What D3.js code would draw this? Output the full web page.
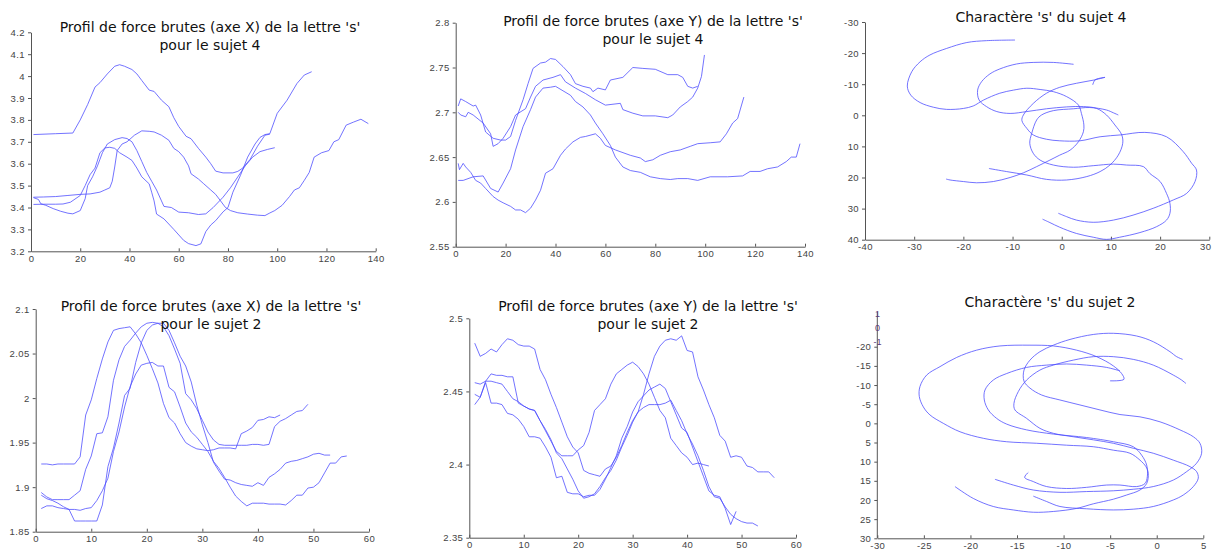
<!DOCTYPE html>
<html><head><meta charset="utf-8">
<script src="https://cdn.jsdelivr.net/npm/d3@7"></script>
<style>
html,body{margin:0;padding:0;background:#fff;}
svg{display:block;}
.tick text{font-family:"Liberation Sans",Arial,sans-serif;font-size:9.5px;fill:#444;letter-spacing:0.4px;}
.tick line,.domain{stroke:#555;}
.title{font-family:"DejaVu Sans",Verdana,sans-serif;font-size:14px;fill:#111;text-anchor:middle;}
</style></head><body>
<svg id="chart" width="1214" height="557"></svg>
<script>
// ---------- Panel 1 : raw force X, subject 4 ----------
const p1Title = ["Profil de force brutes (axe X) de la lettre 's'", "pour le sujet 4"];
const p1XTicks = [0,20,40,60,80,100,120,140];
const p1YTicks = [3.2,3.3,3.4,3.5,3.6,3.7,3.8,3.9,4,4.1,4.2];
const p1A = [[1,3.733],[10,3.737],[17,3.74],[20,3.80],[23,3.87],[26,3.95],[28,3.97],[31,4.01],[34,4.045],[36,4.052],[38,4.045],[41,4.03],[43,4.01],[45,3.98],[48,3.936],[50,3.93],[53,3.89],[56,3.86],[58,3.81],[60,3.77],[63,3.725],[65,3.714],[68,3.67],[71,3.63],[73,3.60],[75,3.566],[78,3.558],[82,3.558],[84,3.565],[86,3.58],[89,3.62],[92,3.68],[95,3.73],[97,3.735]];
const p1B = [[1,3.447],[5,3.448],[10,3.45],[15,3.455],[20,3.46],[24,3.462],[28,3.47],[30,3.48],[32,3.49],[33,3.52],[34,3.585],[35,3.66],[37,3.69],[39,3.70],[42,3.73],[45,3.75],[48,3.748],[50,3.745],[53,3.73],[56,3.707],[58,3.67],[60,3.655],[62,3.63],[64,3.59],[65,3.554],[68,3.53],[70,3.51],[73,3.48],[75,3.46],[77,3.43],[79,3.40],[81,3.386],[84,3.376],[88,3.37],[92,3.365],[95,3.363],[97,3.375],[99,3.386],[102,3.41],[105,3.45],[107,3.48],[109,3.49],[111,3.524],[113,3.56],[115,3.63],[118,3.65],[121,3.66],[123,3.70],[125,3.71],[128,3.776],[131,3.79],[134,3.803],[137,3.783]];
const p1C = [[1,3.414],[5,3.415],[10,3.415],[13,3.416],[16,3.424],[20,3.455],[22,3.50],[24,3.55],[26,3.58],[28,3.65],[30,3.672],[32,3.675],[34,3.67],[36,3.65],[39,3.63],[41,3.615],[43,3.58],[45,3.54],[48,3.508],[49,3.47],[50,3.43],[51,3.37],[54,3.348],[58,3.30],[62,3.25],[64,3.235],[67,3.226],[69,3.234],[71,3.29],[73,3.32],[75,3.34],[78,3.38],[80,3.40],[82,3.47],[85,3.545],[88,3.63],[91,3.69],[93,3.72],[95,3.733],[97,3.737],[100,3.83],[104,3.89],[108,3.966],[111,4.005],[114,4.02]];
const p1D = [[1,3.445],[3,3.437],[4,3.417],[6,3.41],[9,3.395],[12,3.383],[15,3.374],[17,3.371],[20,3.386],[22,3.44],[23,3.50],[25,3.54],[27,3.59],[28,3.62],[29,3.65],[31,3.69],[34,3.71],[37,3.719],[39,3.715],[41,3.70],[43,3.66],[45,3.61],[47,3.56],[49,3.52],[51,3.48],[53,3.43],[54,3.405],[57,3.40],[60,3.379],[64,3.376],[68,3.368],[71,3.371],[74,3.40],[78,3.447],[81,3.49],[84,3.54],[87,3.59],[90,3.63],[93,3.655],[96,3.665],[99,3.673]];

// ---------- Panel 2 : raw force Y, subject 4 ----------
const p2Title = ["Profil de force brutes (axe Y) de la lettre 's'", "pour le sujet 4"];
const p2XTicks = [0,20,40,60,80,100,120,140];
const p2YTicks = [2.55,2.6,2.65,2.7,2.75,2.8];
const p2A = [[1,2.707],[2,2.715],[4,2.712],[7,2.707],[8,2.708],[10,2.697],[12,2.678],[15,2.671],[18,2.669],[20,2.669],[22,2.673],[24,2.691],[27,2.714],[29,2.732],[31,2.749],[34,2.755],[36,2.756],[38,2.76],[40,2.759],[43,2.751],[46,2.742],[48,2.732],[51,2.729],[54,2.727],[55,2.723],[57,2.727],[60,2.725],[62,2.736],[67,2.739],[71,2.75],[75,2.749],[80,2.748],[85,2.742],[89,2.742],[91,2.739],[93,2.729],[95,2.727],[97,2.729]];
const p2B = [[1,2.70],[2,2.697],[4,2.695],[5,2.70],[7,2.697],[11,2.688],[14,2.676],[15,2.662],[17,2.665],[19,2.671],[22,2.684],[24,2.697],[28,2.704],[30,2.717],[32,2.729],[35,2.736],[39,2.739],[42,2.742],[44,2.734],[48,2.727],[52,2.721],[56,2.714],[60,2.708],[66,2.71],[67,2.703],[71,2.699],[75,2.696],[80,2.696],[85,2.694],[87,2.697],[90,2.706],[93,2.712],[95,2.717],[97,2.727],[98.5,2.74],[99.7,2.764]];
const p2C = [[1,2.643],[1.5,2.636],[3,2.643],[4,2.639],[6,2.633],[8,2.624],[10,2.621],[12,2.615],[15,2.606],[17,2.602],[19,2.599],[22,2.595],[24,2.591],[26,2.591],[28,2.588],[30,2.593],[32,2.602],[34,2.613],[36,2.632],[39,2.637],[42,2.652],[44,2.659],[47,2.667],[50,2.672],[52,2.673],[56,2.676],[58,2.671],[60,2.663],[64,2.658],[70,2.652],[74,2.649],[76,2.645],[79,2.647],[82,2.652],[86,2.656],[90,2.658],[94,2.662],[97,2.665],[102,2.666],[106,2.667],[108.5,2.676],[111,2.688],[113,2.693],[115.5,2.717]];
const p2D = [[1,2.624],[3,2.624],[7,2.628],[11,2.629],[14,2.615],[17,2.611],[19,2.621],[22,2.637],[24,2.658],[27,2.684],[30,2.703],[32,2.717],[35,2.727],[38,2.728],[40,2.729],[43,2.724],[46,2.719],[48,2.712],[51,2.706],[54,2.697],[56,2.688],[59,2.676],[62,2.663],[64,2.65],[67,2.639],[70,2.635],[74,2.633],[78,2.628],[82,2.626],[86,2.625],[89,2.626],[93,2.626],[97,2.624],[102,2.628],[109,2.628],[115,2.629],[118,2.634],[122,2.634],[125,2.637],[129,2.639],[132.5,2.645],[134.5,2.65],[136.5,2.65],[138,2.665]];

// ---------- Panel 3 : character 's', subject 4 ----------
const p3Title = ["Charactère 's' du sujet 4"];
const p3XTicks = [-40,-30,-20,-10,0,10,20,30];
const p3YTicks = [-30,-20,-10,0,10,20,30,40];
const p3S1 = [[-9.5,-24.2],[-15.3,-24],[-19.3,-23.4],[-23.4,-21.5],[-26.8,-19.4],[-28.8,-17.2],[-30.5,-14],[-31.4,-9.4],[-30.7,-6.5],[-28.8,-4.1],[-26.1,-2.6],[-23.4,-1.9],[-20,-2.2],[-18,-3],[-15.9,-4.9],[-12.6,-7.1],[-9.8,-8.1],[-7.1,-8.7],[-4.4,-8.3],[-1.7,-7.6],[1,-6],[3.4,-3.3],[4,-0.6],[4.5,3.1],[4.4,5.3],[3.4,8.5],[1.7,11.2],[-0.4,12.8],[-2.4,14.4],[-5.1,16.5],[-7.8,18.5],[-10.5,20],[-13.9,21.3],[-17.3,21.7],[-20,21.3],[-22.7,20.8],[-23.5,20.5]];
const p3S2 = [[2.4,-16.4],[-1.7,-17],[-5.8,-17],[-9.2,-16.5],[-12.6,-14.9],[-14.6,-13.3],[-16.3,-10.8],[-17.1,-8.1],[-16.8,-4.9],[-15.3,-2.8],[-13.2,-1.2],[-10.5,-0.6],[-7.1,-1.2],[-3.1,-2.1],[1,-2.7],[4.4,-2.8],[7.1,-2.2],[9.1,-0.1],[10.8,3.1],[12.2,6.3],[12.4,9],[11.5,12.8],[9.8,16],[7.8,18.1],[5.1,19.7],[1,20.8],[-3.1,20.6],[-7.1,19.2],[-11.2,18.1],[-14.8,17.1]];
const p3S3 = [[6.3,-9.8],[6.8,-11.4],[8.8,-12.2],[6.4,-11.3],[3,-10.3],[-0.4,-9],[-3.1,-7.1],[-5.8,-3.8],[-7.8,-0.1],[-8.1,1.7],[-7.1,4.2],[-5.8,6.3],[-3.1,7.7],[-0.4,8.2],[3.7,8.2],[7.8,6.9],[12,6.3],[16.9,5.5],[21.3,6.9],[24.7,11.7],[26.4,15.4],[27.4,17.6],[27.1,21.3],[25.4,25.1],[22.7,27.2],[18.6,29.9],[14.5,32.1],[10.5,33.7],[6.4,34.4],[3,33.7],[1,32.6],[-0.7,31.5]];
const p3S4 = [[11.5,-0.1],[10.5,-0.8],[9.1,-1.7],[5.7,-2.5],[2.4,-2.1],[-1.7,-1.5],[-4.1,-0.1],[-5.1,1.5],[-6.1,5.8],[-6.5,9],[-5.8,12.2],[-4.4,14.4],[-1.7,16],[2.4,16.7],[6.4,16.2],[10.5,15.7],[13.2,16],[16.6,16.5],[17.9,18.7],[20,21.3],[21.3,25.1],[22,28.3],[22,31.5],[21.3,33.7],[19.3,35.8],[15.9,37.7],[11.8,39.2],[9.1,39.9],[6.4,39.2],[3,38],[-0.4,36],[-2.4,34.5],[-3.9,33.4]];

// ---------- Panel 4 : raw force X, subject 2 (sample index 1..N) ----------
const p4Title = ["Profil de force brutes (axe X) de la lettre 's'", "pour le sujet 2"];
const p4XTicks = [0,10,20,30,40,50,60];
const p4YTicks = [1.85,1.9,1.95,2,2.05,2.1];
const p4A = [1.926,1.926,1.925,1.926,1.926,1.926,1.926,1.934,1.981,1.998,2.022,2.044,2.063,2.076,2.078,2.079,2.080,2.072,2.062,2.048,2.033,2.017,1.994,1.978,1.972,1.960,1.950,1.946,1.943,1.942,1.941,1.942,1.944,1.944,1.944,1.943,1.960,1.963,1.967,1.975,1.976,1.979,1.978,1.981];
const p4B = [1.894,1.889,1.886,1.886,1.886,1.886,1.891,1.896,1.920,1.935,1.960,1.961,1.979,2.020,2.043,2.058,2.065,2.073,2.080,2.084,2.085,2.084,2.080,2.070,2.055,2.039,2.005,1.998,1.988,1.975,1.962,1.953,1.948,1.947,1.947,1.947,1.947,1.947,1.948,1.948,1.947,1.948,1.968,1.974,1.977,1.981,1.985,1.986,1.993];
const p4C = [1.891,1.887,1.885,1.882,1.878,1.875,1.862,1.862,1.862,1.862,1.862,1.880,1.923,1.944,1.972,2.003,2.011,2.040,2.062,2.076,2.082,2.084,2.084,2.076,2.062,2.047,2.036,2.018,1.992,1.970,1.950,1.928,1.918,1.909,1.908,1.905,1.903,1.902,1.901,1.905,1.902,1.911,1.915,1.920,1.927,1.929,1.930,1.932,1.934,1.937,1.938,1.936,1.936];
const p4D = [1.876,1.879,1.879,1.877,1.876,1.875,1.875,1.874,1.876,1.877,1.885,1.896,1.910,1.940,1.962,1.990,2.013,2.027,2.037,2.039,2.040,2.036,2.036,2.012,2.007,1.990,1.972,1.962,1.956,1.948,1.940,1.929,1.921,1.911,1.900,1.890,1.884,1.879,1.882,1.882,1.882,1.881,1.881,1.881,1.880,1.885,1.891,1.891,1.899,1.900,1.905,1.916,1.927,1.927,1.934,1.935];

// ---------- Panel 5 : raw force Y, subject 2 ----------
const p5Title = ["Profil de force brutes (axe Y) de la lettre 's'", "pour le sujet 2"];
const p5XTicks = [0,10,20,30,40,50,60];
const p5YTicks = [2.35,2.4,2.45,2.5];
const p5A = [2.483,2.474,2.476,2.479,2.477,2.482,2.486,2.485,2.482,2.481,2.481,2.479,2.465,2.458,2.448,2.439,2.429,2.419,2.412,2.408,2.396,2.394,2.393,2.392,2.397,2.399,2.405,2.413,2.422,2.430,2.436,2.448,2.462,2.474,2.481,2.485,2.486,2.485,2.488,2.478,2.477,2.460,2.451,2.441,2.432,2.420,2.416,2.405,2.406,2.405,2.399,2.398,2.395,2.395,2.395,2.391];
const p5B = [2.456,2.455,2.457,2.462,2.461,2.461,2.460,2.460,2.442,2.440,2.438,2.437,2.430,2.423,2.416,2.409,2.406,2.406,2.406,2.410,2.413,2.422,2.437,2.441,2.445,2.455,2.462,2.465,2.468,2.470,2.467,2.462,2.455,2.446,2.437,2.432,2.418,2.413,2.408,2.405,2.400,2.401,2.400,2.399];
const p5C = [2.448,2.446,2.456,2.442,2.442,2.441,2.435,2.434,2.431,2.426,2.419,2.419,2.418,2.412,2.405,2.391,2.392,2.381,2.380,2.380,2.378,2.379,2.379,2.383,2.390,2.398,2.406,2.418,2.426,2.436,2.443,2.447,2.451,2.453,2.455,2.452,2.443,2.434,2.425,2.422,2.412,2.402,2.392,2.382,2.379,2.378,2.370,2.359,2.368];
const p5D = [2.441,2.446,2.457,2.457,2.456,2.455,2.450,2.445,2.443,2.440,2.438,2.437,2.430,2.424,2.417,2.408,2.404,2.397,2.390,2.382,2.377,2.378,2.380,2.385,2.391,2.396,2.403,2.412,2.420,2.429,2.436,2.439,2.441,2.441,2.441,2.442,2.444,2.437,2.430,2.421,2.414,2.406,2.396,2.385,2.378,2.377,2.371,2.366,2.363,2.361,2.360,2.360,2.358];

// ---------- Panel 6 : character 's', subject 2 ----------
const p6Title = ["Charactère 's' du sujet 2"];
const p6XTicks = [-30,-25,-20,-15,-10,-5,0,5];
const p6YTicks = [-20,-15,-10,-5,0,5,10,15,20,25,30];
const p6ExtraLabels = ["1","0","-1"];
const p6S1 = [[2.78,-16.7],[2.14,-17.4],[1.42,-18.7],[-0.37,-21.3],[-2.16,-22.8],[-4.66,-23.5],[-6.81,-23.2],[-9.31,-21.9],[-11.1,-20.4],[-12.54,-18.7],[-13.61,-16.5],[-14.25,-13.9],[-14.25,-11.0],[-13.61,-9.2],[-12.36,-7.4],[-10.39,-6.1],[-8.24,-4.8],[-6.09,-3.5],[-3.95,-2.3],[-1.8,-1.7],[0.35,-0.4],[2.49,1.7],[3.93,3.5],[4.64,5.2],[4.82,7.8],[4.28,10.4],[3.21,12.6],[1.78,14.8],[-0.37,16.5],[-2.52,17.2],[-4.66,17.6],[-7.53,17.8],[-10.39,18.0],[-13.25,17.4],[-15.4,16.1],[-17.37,14.6]];
const p6S2 = [[3.14,-10.4],[2.67,-11.3],[1.78,-12.6],[-0.37,-15.2],[-2.52,-16.7],[-4.66,-17.4],[-6.81,-17.4],[-8.96,-16.5],[-11.1,-15.2],[-12.54,-13.9],[-13.97,-11.3],[-14.86,-8.3],[-15.33,-5.2],[-15.22,-3.5],[-13.97,-1.3],[-12.54,1.3],[-11.1,2.6],[-8.96,3.5],[-6.81,4.3],[-4.66,5.2],[-2.52,6.5],[-0.37,7.8],[1.78,9.6],[3.57,11.3],[4.28,12.6],[4.46,14.3],[3.93,16.5],[2.85,18.7],[1.78,20.0],[-0.37,21.7],[-2.52,22.4],[-4.66,22.6],[-7.53,22.3],[-10.39,21.7],[-11.82,20.4],[-13.25,19.0]];
const p6S3 = [[-3.95,-13.7],[-5.38,-14.6],[-7.53,-15.2],[-9.67,-15.5],[-11.82,-15.2],[-13.97,-14.6],[-16.11,-13.0],[-17.55,-11.3],[-18.44,-8.7],[-18.51,-6.1],[-18.08,-3.5],[-17.19,-1.3],[-16.11,0.2],[-13.97,1.7],[-11.1,2.8],[-7.53,3.7],[-4.66,4.8],[-2.52,6.1],[-1.62,8.3],[-1.08,10.9],[-1.01,13.9],[-1.26,15.7],[-2.16,16.5],[-3.95,16.1],[-5.38,16.1],[-7.53,16.7],[-9.67,17.0],[-11.82,16.5],[-13.25,15.2],[-14.18,14.1],[-13.79,12.8]];
const p6S4 = [[-5.02,-11.1],[-3.52,-11.5],[-3.77,-13.0],[-4.66,-15.0],[-6.45,-17.4],[-8.6,-19.1],[-11.1,-20.2],[-13.61,-20.4],[-16.83,-20.2],[-19.34,-19.1],[-21.48,-17.2],[-23.27,-14.8],[-24.7,-12.6],[-25.42,-9.6],[-25.49,-7.0],[-25.06,-4.3],[-24.35,-2.2],[-22.91,0.0],[-21.12,2.2],[-18.62,3.9],[-16.11,4.8],[-12.89,5.2],[-9.67,5.7],[-6.81,6.1],[-4.66,7.0],[-2.87,7.8],[-1.8,9.6],[-1.16,11.3],[-0.91,13.0],[-1.08,15.7],[-1.8,17.4],[-3.23,18.7],[-4.66,19.8],[-6.81,21.0],[-8.6,22.2],[-11.1,23.0],[-13.25,23.2],[-15.4,22.6],[-17.55,21.7],[-19.69,19.6],[-21.66,16.5]];

// ---------- drawing ----------
const svg = d3.select("#chart");
const LINE_COLOR = "#4b4bff";
const fmt = d => String(+(+d).toFixed(3));
const indexed = arr => arr.map((v, i) => [i + 1, v]);

function drawPanel(cfg) {
  const x = d3.scaleLinear().domain(cfg.xDomain).range(cfg.xRange);
  const y = d3.scaleLinear().domain(cfg.yDomain).range(cfg.yRange);
  const g = svg.append("g");
  const axisY = Math.max(cfg.yRange[0], cfg.yRange[1]);
  const ax = g.append("g").attr("transform", `translate(0,${axisY})`)
    .call(d3.axisBottom(x).tickValues(cfg.xTicks).tickFormat(fmt).tickSizeInner(-3).tickSizeOuter(0).tickPadding(4));
  const ay = g.append("g").attr("transform", `translate(${cfg.xRange[0]},0)`)
    .call(d3.axisLeft(y).tickValues(cfg.yTicks).tickFormat(fmt).tickSizeInner(3).tickSizeOuter(0).tickPadding(3));
  if (cfg.yAxisTop !== undefined) ay.select(".domain").attr("d", `M0,${cfg.yAxisTop}V${axisY}`);
  if (cfg.lastXShift) {
    ax.selectAll(".tick text").filter((d,i,n) => i === n.length - 1).attr("dx", cfg.lastXShift);
  }
  const line = d3.line().x(d => x(d[0])).y(d => y(d[1]));
  if (cfg.smooth) line.curve(d3.curveCatmullRom.alpha(0.5));
  g.append("g").selectAll("path").data(cfg.series).join("path")
    .attr("d", line).attr("fill", "none").attr("stroke", LINE_COLOR)
    .attr("stroke-width", 1).attr("stroke-opacity", 0.78).attr("stroke-linejoin", "round");
  const t = g.append("text").attr("class", "title");
  cfg.title.forEach((s, i) => {
    t.append("tspan").attr("x", cfg.titlePos[0]).attr("y", cfg.titlePos[1] + i * 18).text(s);
  });
  return {x, y, g};
}

drawPanel({xDomain:[0,140], xRange:[31,375.7], yDomain:[3.2,4.2], yRange:[251.3,32.3],
  xTicks:p1XTicks, yTicks:p1YTicks, series:[p1A,p1B,p1C,p1D], title:p1Title, titlePos:[210,32]});
drawPanel({xDomain:[0,140], xRange:[455.7,805], yDomain:[2.55,2.8], yRange:[246.7,22.7],
  xTicks:p2XTicks, yTicks:p2YTicks, series:[p2A,p2B,p2C,p2D], title:p2Title, titlePos:[653,26]});
drawPanel({xDomain:[-40,30], xRange:[865,1209.3], yDomain:[-30,40], yRange:[22,239.7],
  xTicks:p3XTicks, yTicks:p3YTicks, series:[p3S1,p3S2,p3S3,p3S4], title:p3Title, titlePos:[1041,22],
  smooth:true, lastXShift:-4});
drawPanel({xDomain:[0,60], xRange:[35.7,369], yDomain:[1.85,2.1], yRange:[531.7,309],
  xTicks:p4XTicks, yTicks:p4YTicks, series:[p4A,p4B,p4C,p4D].map(indexed), title:p4Title, titlePos:[211,311]});
drawPanel({xDomain:[0,60], xRange:[469.3,796], yDomain:[2.35,2.5], yRange:[537.7,318.3],
  xTicks:p5XTicks, yTicks:p5YTicks, series:[p5A,p5B,p5C,p5D].map(indexed), title:p5Title, titlePos:[648,311]});
const p6 = drawPanel({xDomain:[-30,5], xRange:[877.3,1203.3], yDomain:[-30,30], yRange:[308.4,538.3],
  xTicks:p6XTicks, yTicks:p6YTicks, series:[p6S1,p6S2,p6S3,p6S4], title:p6Title, titlePos:[1050,307],
  smooth:true, yAxisTop:312});
// stray tick labels overlapping the top of the y axis (as in the original)
p6.g.append("g").selectAll("text").data(p6ExtraLabels).join("text")
  .attr("x", 877.5).attr("y", (d, i) => 317 + i * 14)
  .attr("text-anchor", "middle").attr("font-family", "Liberation Sans, Arial, sans-serif")
  .attr("font-size", 9).attr("fill", "#5b3a78").text(d => d);
</script>
</body></html>
